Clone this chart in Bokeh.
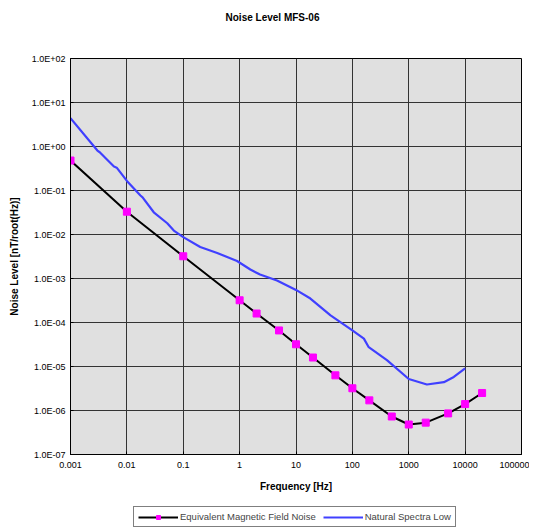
from bokeh.plotting import figure
from bokeh.models import (FixedTicker, CustomJSTickFormatter, Legend,
                          LegendItem, Label, ColumnDataSource)
from bokeh.layouts import column
from bokeh.embed import file_html
from bokeh.resources import INLINE

# ---- data ----
mag_freq = [0.001, 0.01, 0.1, 1, 2, 5, 10, 20, 50, 100, 200, 500, 1000, 2000, 5000, 10000, 20000]
mag_noise = [0.48, 0.033, 0.0032, 3.2e-4, 1.6e-4, 6.6e-5, 3.2e-5, 1.6e-5, 6.3e-6, 3.2e-6,
             1.7e-6, 7.3e-7, 4.8e-7, 5.3e-7, 8.6e-7, 1.4e-6, 2.5e-6]

nat_freq = [0.001, 0.003, 0.0033, 0.0059, 0.0066, 0.0101, 0.0174, 0.019, 0.030, 0.052,
            0.068, 0.1, 0.2, 0.4, 0.9, 1.55, 2.3, 4.6, 10, 18, 41, 100, 160, 195, 410,
            1000, 2100, 4200, 6300, 10000]
nat_noise = [4.4, 0.81, 0.74, 0.35, 0.33, 0.163, 0.077, 0.070, 0.032, 0.018,
             0.0123, 0.0087, 0.0052, 0.0038, 0.0025, 0.0016, 0.00123, 0.00090, 0.00055,
             0.00035, 0.000145, 6.6e-5, 4.3e-5, 2.75e-5, 1.4e-5, 5.2e-6, 3.9e-6, 4.4e-6,
             5.8e-6, 9.1e-6]

x_ticks = [0.001, 0.01, 0.1, 1, 10, 100, 1000, 10000, 100000]
y_ticks = [1e-7, 1e-6, 1e-5, 1e-4, 1e-3, 1e-2, 1e-1, 1, 10, 100]

title_text = "Noise Level MFS-06"
x_label = "Frequency [Hz]"
y_label = "Noise Level [nT/root(Hz)]"
mag_label = "Equivalent Magnetic Field Noise"
nat_label = "Natural Spectra Low"

FONT = "Liberation Sans"
BLUE = "#4040ff"
MAGENTA = "#ff00ff"
W = 529


def blank(height):
    # strip without axes; its range lies far away from every data value
    f = figure(width=W, height=height, output_backend="svg", toolbar_location=None,
               x_axis_location=None, y_axis_location=None,
               x_range=(-20, -10), y_range=(-20, -10),
               min_border_left=70, min_border_right=8, min_border_top=0, min_border_bottom=0)
    f.grid.visible = False
    f.outline_line_color = None
    f.border_fill_color = "white"
    f.background_fill_color = "white"
    return f


# ---- title strip ----
p_title = blank(30)
p_title.add_layout(Label(x=202, y=13, x_units="screen", y_units="screen",
                         text=title_text, text_align="center", text_baseline="middle",
                         text_font=FONT, text_font_size="10px", text_font_style="bold",
                         text_color="black"))

# ---- main chart ----
p = figure(width=W, height=472, x_axis_type="log", y_axis_type="log",
           x_range=(0.001, 100000), y_range=(1e-7, 100),
           output_backend="svg", toolbar_location=None,
           min_border_left=70, min_border_right=8, min_border_top=28, min_border_bottom=48)

p.background_fill_color = "#e0e0e0"
p.border_fill_color = "white"
p.outline_line_color = "black"
p.outline_line_width = 1

src_nat = ColumnDataSource(dict(x=nat_freq, y=nat_noise))
src_mag = ColumnDataSource(dict(x=mag_freq, y=mag_noise))

r_nat = p.line("x", "y", source=src_nat, line_color=BLUE, line_width=2.2)
r_mag = p.line("x", "y", source=src_mag, line_color="black", line_width=2)
r_mk = p.scatter("x", "y", source=src_mag, marker="square", size=7,
                 fill_color=MAGENTA, line_color=MAGENTA)

for ax, ticks in ((p.xaxis[0], x_ticks), (p.yaxis[0], y_ticks)):
    ax.ticker = FixedTicker(ticks=ticks, minor_ticks=[])
    ax.major_label_text_font = FONT
    ax.major_label_text_font_size = "9px"
    ax.major_label_text_color = "black"
    ax.axis_label_text_font = FONT
    ax.axis_label_text_font_size = "10px"
    ax.axis_label_text_font_style = "bold"
    ax.axis_label_text_color = "black"
    ax.axis_line_color = "black"
    ax.major_tick_line_color = "black"
    ax.major_tick_in = 3
    ax.major_tick_out = 0
    ax.minor_tick_line_color = None

p.xaxis[0].formatter = CustomJSTickFormatter(code="""
const e = Math.round(Math.log10(tick));
return e < 0 ? tick.toFixed(-e) : String(Math.round(tick));
""")
p.yaxis[0].formatter = CustomJSTickFormatter(code="""
const e = Math.round(Math.log10(tick));
const a = Math.abs(e);
return '1.0E' + (e < 0 ? '-' : '+') + (a < 10 ? '0' : '') + a;
""")
p.xaxis[0].axis_label = x_label
p.yaxis[0].axis_label = y_label
p.xaxis[0].major_label_standoff = 7
p.yaxis[0].major_label_standoff = 5
p.xaxis[0].axis_label_standoff = 10
p.yaxis[0].axis_label_standoff = 9

p.grid.grid_line_color = "#333333"
p.grid.grid_line_width = 1
p.grid.grid_line_alpha = 1

# ---- legend strip ----
p_leg = blank(27)
leg_src = ColumnDataSource(dict(x=mag_freq, y=mag_noise))
l_mag = p_leg.line("x", "y", source=leg_src, line_color="black", line_width=2)
l_mk = p_leg.scatter("x", "y", source=leg_src, marker="square", size=7,
                     fill_color=MAGENTA, line_color=MAGENTA)
l_nat = p_leg.line("x", "y", source=leg_src, line_color=BLUE, line_width=2.2)
legend = Legend(items=[LegendItem(label=mag_label, renderers=[l_mag, l_mk]),
                       LegendItem(label=nat_label, renderers=[l_nat])],
                orientation="horizontal", location=(63, 2),
                label_text_font=FONT, label_text_font_size="9.5px",
                glyph_width=40, glyph_height=10, label_standoff=2,
                spacing=7, padding=4, margin=0, label_height=9,
                border_line_color="black", border_line_width=1,
                background_fill_color="white")
p_leg.add_layout(legend, "center")

layout = column(p_title, p, p_leg, spacing=0)
open("out.html", "w").write(file_html(layout, INLINE))
